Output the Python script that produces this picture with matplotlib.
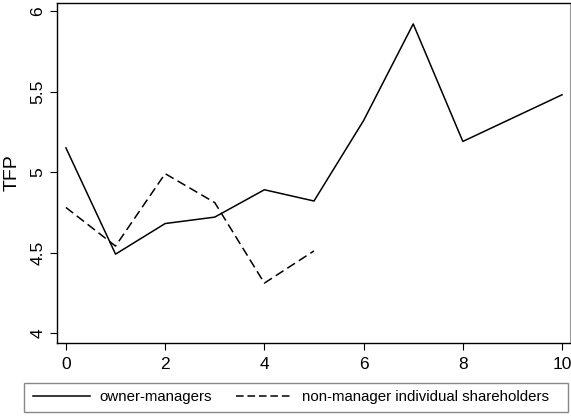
import matplotlib
matplotlib.use("Agg")
import matplotlib.pyplot as plt
from matplotlib.lines import Line2D
from matplotlib.patches import Rectangle

plt.rcParams['font.family'] = ['Liberation Sans', 'DejaVu Sans']

# Data
years_owner = [0, 1, 2, 3, 4, 5, 6, 7, 8, 10]
tfp_owner = [5.15, 4.49, 4.68, 4.72, 4.89, 4.82, 5.32, 5.92, 5.19, 5.48]
years_nonmgr = [0, 1, 2, 3, 4, 5]
tfp_nonmgr = [4.78, 4.54, 4.99, 4.81, 4.31, 4.51]
x_ticks = [0, 2, 4, 6, 8, 10]
y_ticks = [4, 4.5, 5, 5.5, 6]
y_ticklabels = ['4', '4.5', '5', '5.5', '6']

W, H = 571, 418
fig = plt.figure(figsize=(W / 100, H / 100), dpi=100)
ax = fig.add_axes([57 / W, 1 - 343 / H, (570 - 57) / W, (343 - 3) / H])

ax.plot(years_owner, tfp_owner, color='black', linewidth=1.1,
        label='owner-managers')
ax.plot(years_nonmgr, tfp_nonmgr, color='black', linewidth=1.1,
        linestyle=(0, (6, 3)), label='non-manager individual shareholders')

ax.set_xlim(-0.18, 10.16)
ax.set_ylim(3.938, 6.05)
ax.set_xticks(x_ticks)
ax.set_yticks(y_ticks)
ax.set_yticklabels(y_ticklabels, rotation=90, va='center')
ax.tick_params(labelsize=12.5, length=5, width=0.8, direction='out', colors='black')
ax.tick_params(axis='x', pad=5)
ax.set_ylabel('TFP', fontsize=14, labelpad=7)

for side in ['left', 'bottom', 'top']:
    ax.spines[side].set_linewidth(1.0)
ax.spines['right'].set_color('#999999')

# Legend: frame drawn separately so it can be wider than its content
fig.patches.append(Rectangle((24 / W, 1 - 412 / H), (568 - 24) / W, (412 - 383) / H,
                             transform=fig.transFigure, fill=False,
                             edgecolor='#888888', linewidth=1.0))
handles = [Line2D([], [], color='black', linewidth=1.1),
           Line2D([], [], color='black', linewidth=1.1, linestyle=(0, (5, 2.5)))]
leg = fig.legend(handles, ['owner-managers', 'non-manager individual shareholders'],
                 loc='center left', bbox_to_anchor=(24 / W, 1 - 397.5 / H),
                 ncol=2, frameon=False, fontsize=10.8,
                 handlelength=3.8, columnspacing=1.6, borderpad=0.1,
                 handletextpad=0.6)

fig.savefig('out.png', dpi=100)
